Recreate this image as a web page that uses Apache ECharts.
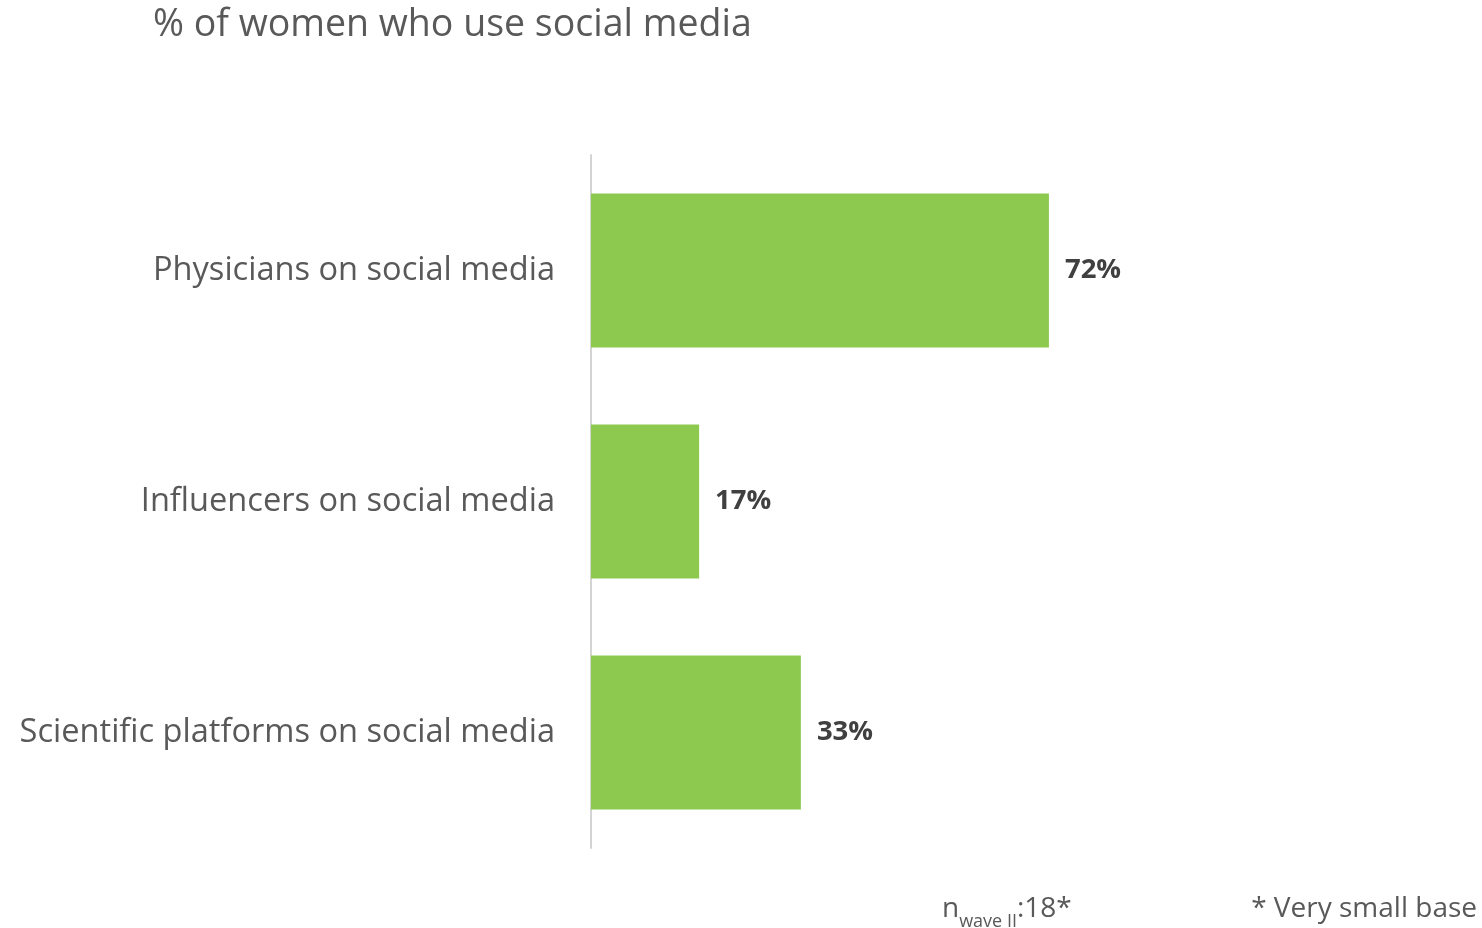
<!DOCTYPE html>
<html>
<head>
<meta charset="utf-8">
<script src="https://cdn.jsdelivr.net/npm/echarts@6/dist/echarts.min.js"></script>
<style>
  html, body { margin: 0; padding: 0; background: #fff; }
  #main { width: 1482px; height: 928px; }
</style>
</head>
<body>
<div id="main"></div>
<script>
// data
var categories = ['Physicians on social media', 'Influencers on social media', 'Scientific platforms on social media'];
var shares = [72, 17, 33];

var font = '"Open Sans", "Noto Sans", sans-serif';
var myChart = echarts.init(document.getElementById('main'));

var option = {
    backgroundColor: '#fff',
    animation: false,
    title: {
        text: '% of women who use social media',
        left: 148,
        top: 1,
        textStyle: { fontFamily: font, fontSize: 37.5, fontWeight: 'normal', color: '#595959' }
    },
    grid: { left: 591, right: 255, top: 155, bottom: 80, containLabel: false },
    xAxis: {
        type: 'value',
        min: 0,
        max: 100,
        show: false
    },
    yAxis: {
        type: 'category',
        inverse: true,
        data: categories,
        axisLine: { show: true, lineStyle: { color: '#d4d4d4', width: 2 } },
        axisTick: { show: false },
        axisLabel: { margin: 36, fontFamily: font, fontSize: 32.6, color: '#595959', padding: [6, 0, 0, 0] }
    },
    series: [{
        type: 'bar',
        data: shares,
        barCategoryGap: '33.4%',
        itemStyle: { color: '#8cc94e' },
        label: {
            show: true,
            position: 'right',
            distance: 16,
            formatter: '{c}%',
            fontFamily: font,
            fontSize: 27.5,
            fontWeight: 'bold',
            color: '#404040',
            padding: [5, 0, 0, 0]
        }
    }],
    graphic: [{
        type: 'text',
        left: 942,
        top: 895,
        style: {
            text: '{n|n}{s|wave II}{n|:18*}',
            rich: {
                n: { fontFamily: font, fontSize: 28, fill: '#595959', verticalAlign: 'top', lineHeight: 36 },
                s: { fontFamily: font, fontSize: 18, fill: '#595959', verticalAlign: 'bottom', lineHeight: 36 }
            }
        }
    }, {
        type: 'text',
        right: 5,
        top: 895,
        style: {
            text: '* Very small base',
            fontFamily: font,
            fontSize: 28,
            fill: '#595959'
        }
    }]
};
myChart.setOption(option);
</script>
</body>
</html>
